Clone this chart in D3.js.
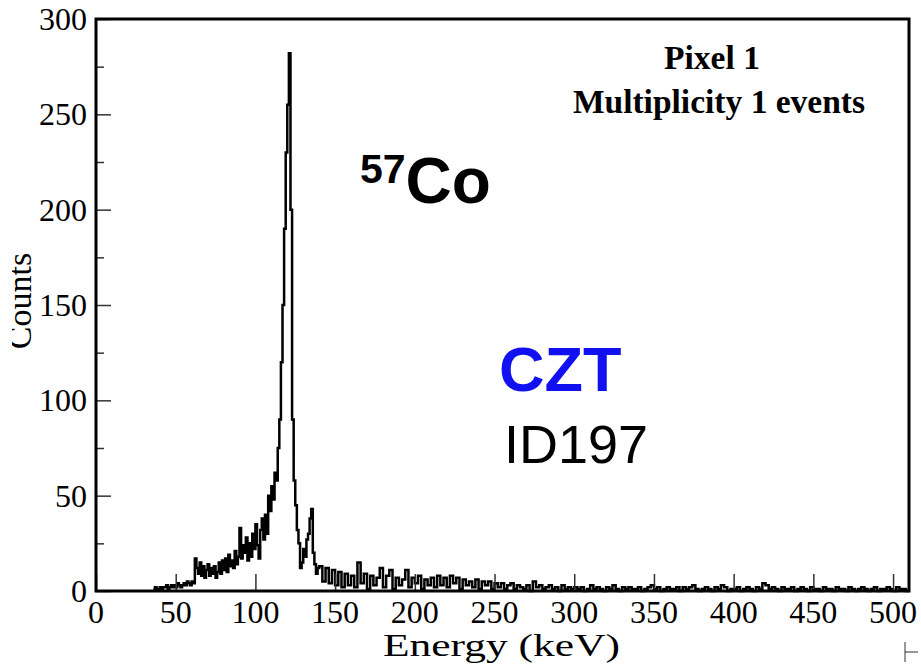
<!DOCTYPE html>
<html>
<head>
<meta charset="utf-8">
<script src="https://cdn.jsdelivr.net/npm/d3@7"></script>
<style>
  body { margin: 0; background: #fff; }
  svg { display: block; }
</style>
</head>
<body>
<div id="chart"></div>
<script>
// spectrum below 140 keV: counts per 1 keV bin, from 36 keV
var lowStart = 36, lowWidth = 1;
var lowCounts = [
  1, 2, 1, 1, 2, 1, 2, 2, 3, 1, 2, 3, 2, 3, 2, 4, 3, 2, 3, 4, 3, 5, 4, 3,
  5, 4,
  17, 12, 9, 15, 8, 13, 7, 11,
  14, 8, 12, 9, 13, 7, 10, 15, 9, 16,
  11, 17, 10, 19, 13, 16, 12, 21, 14, 18,
  33, 17, 24, 20, 28, 16, 25, 18, 30, 22,
  35, 24, 17, 32, 38, 27, 40, 30, 50, 42,
  55, 48, 62, 58, 75, 90, 120, 150, 190, 230,
  255, 282, 200, 90, 58, 45, 32, 25, 12, 15,
  22, 18, 27, 30, 38, 43, 20, 14, 9, 12
];

// spectrum from 140 keV on: counts per 2 keV bin
var tailStart = 140, tailWidth = 2;
var tailCounts = [
  13, 5, 12, 4, 11, 3, 10, 2, 9, 3, 8, 2, 15, 4, 9, 1, 8, 3, 7, 12, 2, 8, 11, 1, 7, 3, 6, 11, 2, 7,
  4, 8, 1, 6, 3, 7, 2, 8, 3, 7, 2, 8, 4, 7, 1, 6, 3, 5, 2, 6, 1, 5, 3, 5, 1, 4, 2, 4, 1, 3,
  4, 1, 3, 2, 1, 3, 0, 5, 2, 3, 1, 2, 3, 1, 2, 0, 3, 1, 2, 1,
  2, 1, 2, 0, 1, 3, 1, 2, 1, 0, 2, 1, 3, 1, 0, 2, 1, 2, 1, 1,
  2, 0, 1, 2, 3, 1, 2, 0, 1, 2, 1, 1, 2, 0, 2, 1, 2, 3, 1, 0,
  1, 2, 1, 0, 2, 1, 3, 2, 0, 1, 1, 2, 0, 1, 2, 1, 0, 2, 1, 4,
  3, 1, 2, 1, 0, 2, 1, 1, 2, 0, 1, 2, 1, 0, 2, 1, 1, 0, 2, 1,
  1, 0, 2, 1, 1, 0, 2, 1, 0, 1, 2, 1, 0, 1, 2, 0, 1, 1, 2, 1,
  0, 2, 1, 1, 0
];

var xTickValues = [0, 50, 100, 150, 200, 250, 300, 350, 400, 450, 500];
var yTickValues = [0, 50, 100, 150, 200, 250, 300];
var yMinorTicks = [25, 75, 125, 175, 225, 275];

var W = 921, H = 668;
var frame = {left: 96, right: 909, top: 19, bottom: 591};

var svg = d3.select("#chart")
    .append("svg")
        .attr("width", W)
        .attr("height", H);

var x = d3.scaleLinear()
        .domain([0, 510])
        .range([frame.left, frame.right]);

var y = d3.scaleLinear()
        .domain([0, 300])
        .range([frame.bottom, frame.top]);

// histogram as a step line
var pts = lowCounts.map(function(c, i) { return [lowStart + i * lowWidth, c]; })
    .concat(tailCounts.map(function(c, i) { return [tailStart + i * tailWidth, c]; }));
pts.push([tailStart + tailCounts.length * tailWidth, tailCounts[tailCounts.length - 1]]);

var line = d3.line()
    .x(function(d) { return x(d[0]); })
    .y(function(d) { return y(d[1]); })
    .curve(d3.curveStepAfter);

svg.append("path")
    .datum(pts)
    .attr("fill", "none")
    .attr("stroke", "#000")
    .attr("stroke-width", 2.5)
    .attr("d", line);

// ticks (inside the frame)
svg.append("g")
    .attr("transform", "translate(0," + frame.bottom + ")")
    .call(d3.axisTop(x).tickValues(xTickValues).tickSize(17).tickFormat(""))
    .call(function(g) { g.select(".domain").remove(); g.selectAll("line").attr("stroke", "#333").attr("stroke-width", 1.5); });

svg.append("g")
    .attr("transform", "translate(" + frame.left + ",0)")
    .call(d3.axisRight(y).tickValues(yTickValues).tickSize(15).tickFormat(""))
    .call(function(g) { g.select(".domain").remove(); g.selectAll("line").attr("stroke", "#333").attr("stroke-width", 1.5); });

svg.append("g")
    .attr("transform", "translate(" + frame.left + ",0)")
    .call(d3.axisRight(y).tickValues(yMinorTicks).tickSize(8).tickFormat(""))
    .call(function(g) { g.select(".domain").remove(); g.selectAll("line").attr("stroke", "#333").attr("stroke-width", 1.5); });

// frame
svg.append("rect")
    .attr("x", frame.left)
    .attr("y", frame.top)
    .attr("width", frame.right - frame.left)
    .attr("height", frame.bottom - frame.top)
    .attr("fill", "none")
    .attr("stroke", "#000")
    .attr("stroke-width", 3);

// tick labels
svg.selectAll(".xlab")
    .data(xTickValues)
  .enter().append("text")
    .attr("x", function(d) { return x(d); })
    .attr("y", 623)
    .attr("text-anchor", "middle")
    .style("font-family", "Liberation Serif, serif")
    .style("font-size", "32px")
    .text(function(d) { return d; });

svg.selectAll(".ylab")
    .data(yTickValues)
  .enter().append("text")
    .attr("x", 87)
    .attr("y", function(d) { return y(d) + 11; })
    .attr("text-anchor", "end")
    .style("font-family", "Liberation Serif, serif")
    .style("font-size", "32px")
    .text(function(d) { return d; });

// axis titles
svg.append("text")
    .attr("x", 383)
    .attr("y", 656)
    .attr("textLength", 237)
    .attr("lengthAdjust", "spacingAndGlyphs")
    .style("font-family", "Liberation Serif, serif")
    .style("font-size", "32px")
    .text("Energy (keV)");

// y title is cut off at the left edge, as in the source image
svg.append("clipPath").attr("id", "leftcut")
  .append("rect").attr("x", 12).attr("y", 0).attr("width", 60).attr("height", H);

svg.append("g")
    .attr("clip-path", "url(#leftcut)")
  .append("text")
    .attr("transform", "translate(31,301) rotate(-90)")
    .attr("text-anchor", "middle")
    .style("font-family", "Liberation Serif, serif")
    .style("font-size", "34px")
    .text("Counts");

// annotations
var info = svg.append("text")
    .attr("text-anchor", "middle")
    .style("font-family", "Liberation Serif, serif")
    .style("font-weight", "bold")
    .style("font-size", "33.5px");
info.append("tspan").attr("x", 712).attr("y", 69).text("Pixel 1");
info.append("tspan").attr("x", 719).attr("y", 113).text("Multiplicity 1 events");

var iso = svg.append("text")
    .attr("x", 360)
    .attr("y", 203)
    .style("font-family", "Liberation Sans, Arial, sans-serif")
    .style("font-weight", "bold");
iso.append("tspan").attr("dy", -20).style("font-size", "41px").text("57");
iso.append("tspan").attr("dy", 20).style("font-size", "64px").text("Co");

svg.append("text")
    .attr("x", 499)
    .attr("y", 391)
    .style("font-family", "Liberation Sans, Arial, sans-serif")
    .style("font-weight", "bold")
    .style("font-size", "63px")
    .style("fill", "#1010f0")
    .text("CZT");

svg.append("text")
    .attr("x", 504)
    .attr("y", 463)
    .style("font-family", "Liberation Sans, Arial, sans-serif")
    .style("font-size", "54px")
    .text("ID197");

// small corner mark
svg.append("path")
    .attr("d", "M905,642V662M905,652H918")
    .attr("fill", "none")
    .attr("stroke", "#333")
    .attr("stroke-width", 1);
</script>
</body>
</html>
